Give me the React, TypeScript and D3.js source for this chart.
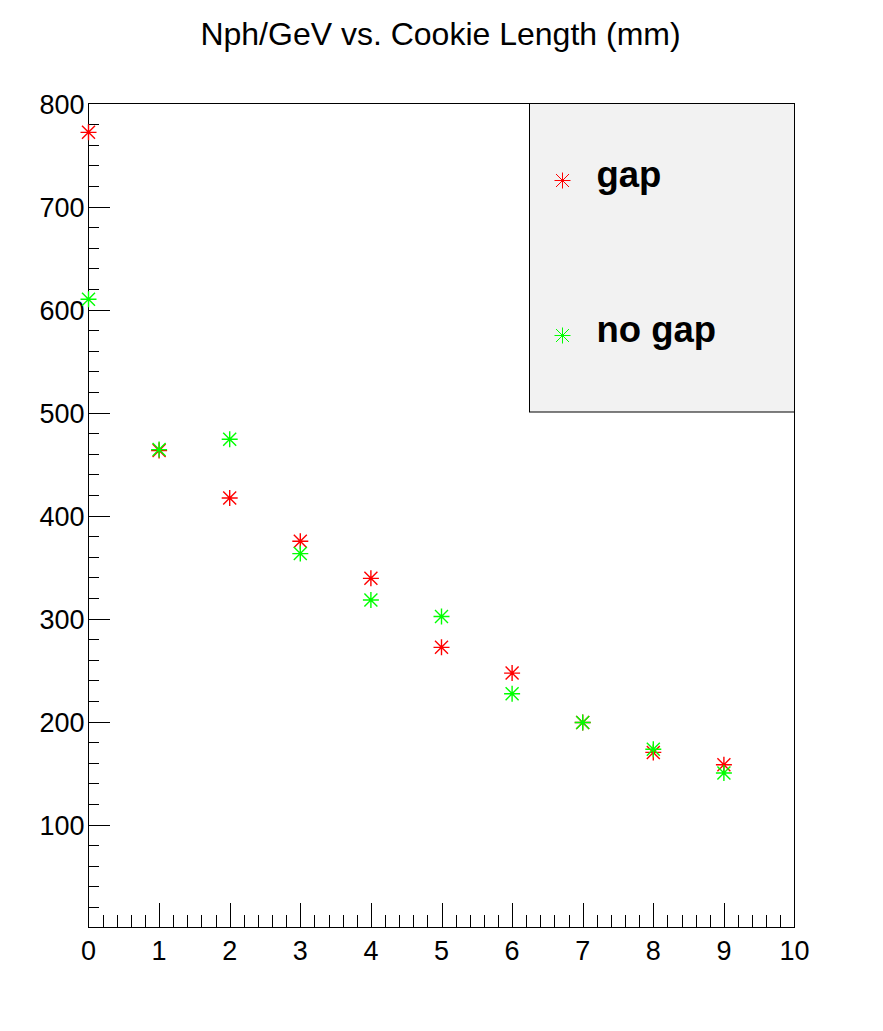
import React, { useRef, useEffect } from "react";
import * as d3 from "d3";

const W = 883;
const H = 1031;
const frame = { left: 88.5, right: 794.5, top: 103.5, bottom: 927.5 };

// cookie length (mm)
const lengths = [0, 1, 2, 3, 4, 5, 6, 7, 8, 9];
// Nph/GeV
const gapValues = [772, 463, 417, 375, 339, 272, 247, 199, 170, 158];
const noGapValues = [610, 464, 474, 363, 318, 302, 227, 199, 173, 150];

const xTickLabels = ["0", "1", "2", "3", "4", "5", "6", "7", "8", "9", "10"];
const yTickLabels = ["100", "200", "300", "400", "500", "600", "700", "800"];

const series = [
  { name: "gap", color: "#ff0000", values: gapValues },
  { name: "no gap", color: "#00ff00", values: noGapValues },
];

const font = "'Liberation Sans', Arial, Helvetica, sans-serif";

// ROOT style asterisk marker
const starPath = (cx, cy) => {
  const r = 8;
  const d = 6.5;
  return (
    `M${cx - r},${cy}L${cx + r},${cy}` +
    `M${cx},${cy - r}L${cx},${cy + r}` +
    `M${cx - d},${cy - d}L${cx + d},${cy + d}` +
    `M${cx - d},${cy + d}L${cx + d},${cy - d}`
  );
};

const App = () => {
  const svgRef = useRef();

  useEffect(() => {
    const svg = d3.select(svgRef.current);
    svg.selectAll("*").remove();

    const x = d3.scaleLinear().domain([0, 10]).range([frame.left, frame.right]);
    const y = d3.scaleLinear().domain([0, 800]).range([frame.bottom, frame.top]);

    // title
    svg
      .append("text")
      .attr("x", 440.5)
      .attr("y", 45)
      .attr("text-anchor", "middle")
      .attr("font-family", font)
      .attr("font-size", 32)
      .attr("fill", "black")
      .text("Nph/GeV vs. Cookie Length (mm)");

    // frame
    svg
      .append("rect")
      .attr("x", frame.left)
      .attr("y", frame.top)
      .attr("width", frame.right - frame.left)
      .attr("height", frame.bottom - frame.top)
      .attr("fill", "white")
      .attr("stroke", "black")
      .attr("stroke-width", 1);

    // x ticks
    const xMinor = d3.range(1, 50).map((i) => i * 0.2);
    const gx = svg.append("g").attr("shape-rendering", "crispEdges");
    gx.selectAll("line")
      .data(xMinor)
      .enter()
      .append("line")
      .attr("x1", (d) => Math.round(x(d)) + 0.5)
      .attr("x2", (d) => Math.round(x(d)) + 0.5)
      .attr("y1", frame.bottom)
      .attr("y2", (d) =>
        Math.abs(d - Math.round(d)) < 1e-6 ? frame.bottom - 24.5 : frame.bottom - 12.5
      )
      .attr("stroke", "black");

    svg
      .append("g")
      .selectAll("text")
      .data(xTickLabels)
      .enter()
      .append("text")
      .attr("x", (d) => x(+d))
      .attr("y", 959.5)
      .attr("text-anchor", "middle")
      .attr("font-family", font)
      .attr("font-size", 27)
      .text((d) => d);

    // y ticks
    const yMinor = d3.range(1, 40).map((i) => i * 20);
    const gy = svg.append("g").attr("shape-rendering", "crispEdges");
    gy.selectAll("line")
      .data(yMinor)
      .enter()
      .append("line")
      .attr("y1", (d) => Math.round(y(d)) + 0.5)
      .attr("y2", (d) => Math.round(y(d)) + 0.5)
      .attr("x1", frame.left)
      .attr("x2", (d) => (d % 100 === 0 ? frame.left + 21.5 : frame.left + 10.5))
      .attr("stroke", "black");

    svg
      .append("g")
      .selectAll("text")
      .data(yTickLabels)
      .enter()
      .append("text")
      .attr("x", 84.5)
      .attr("y", (d) => y(+d) + 10)
      .attr("text-anchor", "end")
      .attr("font-family", font)
      .attr("font-size", 27)
      .text((d) => d);

    // markers
    series.forEach((s) => {
      svg
        .append("g")
        .selectAll("path")
        .data(lengths)
        .enter()
        .append("path")
        .attr("d", (d, i) => starPath(x(d), y(s.values[i])))
        .attr("stroke", s.color)
        .attr("stroke-width", 1.4)
        .attr("fill", "none");
    });

    // legend
    const leg = svg.append("g");
    leg
      .append("rect")
      .attr("x", 529.5)
      .attr("y", frame.top)
      .attr("width", frame.right - 529.5)
      .attr("height", 412 - frame.top)
      .attr("fill", "#f2f2f2")
      .attr("stroke", "black")
      .attr("stroke-width", 1);

    const legRows = [180.5, 335.5];
    series.forEach((s, i) => {
      leg
        .append("path")
        .attr("d", starPath(562.5, legRows[i]))
        .attr("stroke", s.color)
        .attr("stroke-width", 1)
        .attr("fill", "none");
      leg
        .append("text")
        .attr("x", 596.5)
        .attr("y", legRows[i] + 6.5)
        .attr("font-family", font)
        .attr("font-weight", "bold")
        .attr("font-size", 36.5)
        .text(s.name);
    });
  }, []);

  return (
    <svg
      ref={svgRef}
      width={W}
      height={H}
      style={{ position: "absolute", left: 0, top: 0, background: "white" }}
    ></svg>
  );
};

export default App;
